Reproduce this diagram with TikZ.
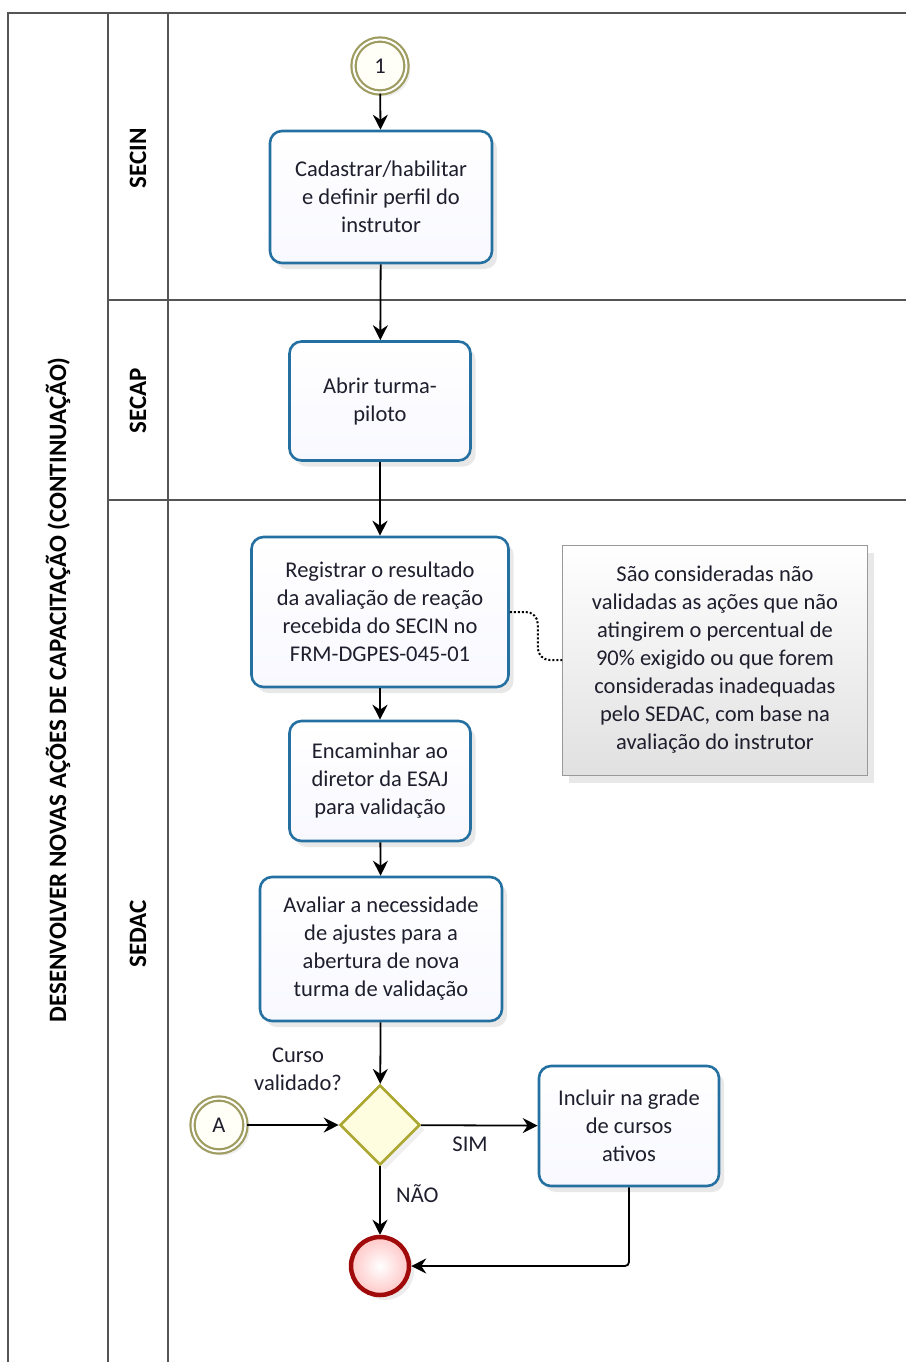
\documentclass[tikz,border=0pt]{standalone}
\usepackage{fontspec}
\setmainfont{Carlito}
\usetikzlibrary{arrows.meta,positioning,shapes.geometric,shadows}
\definecolor{bpblue}{RGB}{36,112,160}
\definecolor{bpfill}{RGB}{240,244,252}
\definecolor{bpolive}{RGB}{158,156,96}
\definecolor{bpgate}{RGB}{170,168,50}
\definecolor{bpred}{RGB}{160,10,10}
\definecolor{bpline}{RGB}{85,85,85}
\definecolor{bptext}{RGB}{30,30,45}

\begin{document}
\begin{tikzpicture}[x=1pt, y=-1pt,
  every node/.style={font=\fontsize{22.5}{28}\selectfont, text=bptext},
  lane/.style={draw=bpline, line width=1.6pt},
  task/.style={draw=bpblue, line width=2.6pt, rounded corners=12pt, align=center,
    top color=white, bottom color=bpfill!70!blue!8, inner sep=4pt,
    drop shadow={opacity=0.18, shadow xshift=5pt, shadow yshift=-6pt}},
  evt/.style={circle, draw=bpolive, double=white, double distance=2pt, line width=2.2pt,
    fill=yellow!3, minimum size=53pt, inner sep=0pt,
    drop shadow={opacity=0.12, shadow xshift=4pt, shadow yshift=-4pt}},
  gate/.style={diamond, draw=bpgate, line width=2.6pt, fill=yellow!12, minimum size=80pt,
    inner sep=0pt, drop shadow={opacity=0.12, shadow xshift=5pt, shadow yshift=-5pt}},
  endevt/.style={circle, draw=bpred, line width=4.5pt, inner color=white, outer color=red!22,
    minimum size=58pt, inner sep=0pt,
    drop shadow={opacity=0.15, shadow xshift=5pt, shadow yshift=-5pt}},
  note/.style={draw=black!40, line width=1pt, top color=white, bottom color=black!12,
    align=center, minimum width=305pt, minimum height=230pt,
    drop shadow={opacity=0.18, shadow xshift=6pt, shadow yshift=-8pt}},
  flow/.style={draw=black, line width=1.8pt, -{Stealth[length=15pt, width=15pt, inset=5pt]}},
  assoc/.style={draw=black, line width=2pt, dotted, rounded corners=12pt},
  head/.style={font=\fontsize{25}{28}\selectfont\bfseries, text=black}
]
  \useasboundingbox (0,0) rectangle (906,1362);
  \def\colA{8}\def\colB{108}\def\colC{168}\def\edge{906}

  % pool and lanes
  \draw[lane] (\colA,1362) -- (\colA,13) -- (\edge,13);
  \draw[lane] (\colB,13) -- (\colB,1362);
  \draw[lane] (\colC,13) -- (\colC,1362);
  \draw[lane] (\colB,300) -- (\edge,300);
  \draw[lane] (\colB,500) -- (\edge,500);

  \node[head, rotate=90] (pool) at (58,690) {DESENVOLVER NOVAS AÇÕES DE CAPACITAÇÃO (CONTINUAÇÃO)};
  \node[head, rotate=90] (secin) at (138,158) {SECIN};
  \node[head, rotate=90] (secap) at (138,401) {SECAP};
  \node[head, rotate=90] (sedac) at (138,934) {SEDAC};

  % SECIN
  \node[evt] (ev1) at (380,66) {1};
  \node[task, minimum width=222pt, minimum height=132pt] (cad) at (381,197)
    {Cadastrar/habilitar\\e definir perfil do\\instrutor};

  % SECAP
  \node[task, minimum width=181pt, minimum height=119pt] (abrir) at (380,401)
    {Abrir turma-\\piloto};

  % SEDAC
  \node[task, minimum width=257pt, minimum height=150pt] (reg) at (380,612)
    {Registrar o resultado\\da avaliação de reação\\recebida do SECIN no\\FRM-DGPES-045-01};
  \node[note] (obs) at (715,660)
    {São consideradas não\\validadas as ações que não\\atingirem o percentual de\\90\% exigido ou que forem\\consideradas inadequadas\\pelo SEDAC, com base na\\avaliação do instrutor};
  \node[task, minimum width=181pt, minimum height=120pt] (enc) at (380,781)
    {Encaminhar ao\\diretor da ESAJ\\para validação};
  \node[task, minimum width=242pt, minimum height=144pt] (aval) at (381,949)
    {Avaliar a necessidade\\de ajustes para a\\abertura de nova\\turma de validação};
  \node[gate] (gw) at (380,1125) {};
  \node[align=center] (gwlab) at (298,1069) {Curso\\validado?};
  \node[evt] (evA) at (219,1125) {A};
  \node[task, minimum width=180pt, minimum height=120pt] (incl) at (629,1126)
    {Incluir na grade\\de cursos\\ativos};
  \node[endevt] (fim) at (380,1266) {};

  % flows
  \draw[flow] (ev1) -- (cad);
  \draw[flow] (cad) -- (abrir);
  \draw[flow] (abrir) -- (reg);
  \draw[flow] (reg) -- (enc);
  \draw[flow] (enc) -- (aval);
  \draw[flow] (aval) -- (gw);
  \draw[flow] (evA) -- (gw);
  \draw[flow] (gw) -- node[below=7pt, pos=0.42] (sim) {SIM} (incl);
  \draw[flow] (gw) -- node[right=12pt, pos=0.4] (nao) {NÃO} (fim);
  \draw[flow, rounded corners=4pt] (incl.south) |- (fim.east);
  \draw[assoc] (reg.east) -- ++(28,0) |- (obs.west);
\end{tikzpicture}
\end{document}
